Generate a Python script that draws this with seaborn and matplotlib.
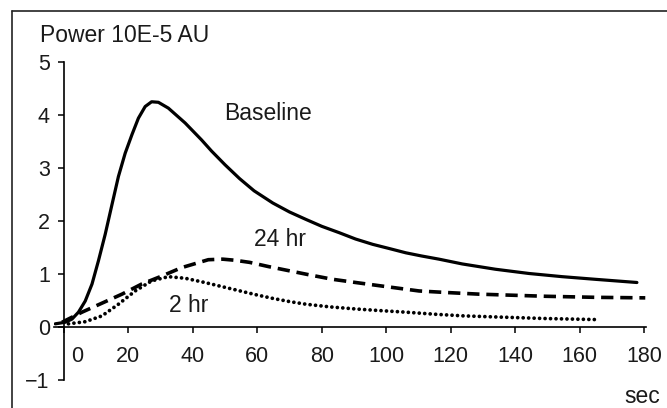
import numpy as np
import pandas as pd
import matplotlib
matplotlib.use("Agg")
import matplotlib.pyplot as plt
import seaborn as sns
from matplotlib.transforms import ScaledTranslation
from matplotlib.lines import Line2D

# ---- data ----
base_t = [-2.7, 0.4, 2.5, 4.5, 6.6, 8.7, 10.7, 12.8, 14.9, 16.9, 19.0, 21.1, 23.1,
          25.2, 27.2, 29.3, 32.4, 37.6, 42.7, 45.8, 50.0, 54.5, 59.0, 64.8, 70.0,
          75.1, 80.0, 85.4, 90.5, 95.8, 101.0, 106.1, 111.0, 116.4, 123.6, 133.9,
          144.3, 154.6, 164.9, 177.8]
base_p = [0.06, 0.09, 0.15, 0.28, 0.49, 0.81, 1.25, 1.75, 2.31, 2.84, 3.28, 3.63, 3.94,
          4.16, 4.25, 4.24, 4.13, 3.85, 3.53, 3.32, 3.06, 2.80, 2.57, 2.34, 2.17,
          2.03, 1.90, 1.78, 1.66, 1.56, 1.48, 1.40, 1.34, 1.28, 1.19, 1.09,
          1.01, 0.95, 0.90, 0.84]

h24_t = [-0.6, 5.6, 11.8, 18.0, 24.1, 30.3, 36.5, 44.8, 49.3, 53.0, 57.6, 63.5,
         70.0, 76.5, 83.4, 90.5, 97.8, 104.0, 110.2, 119.0, 128.8, 139.0, 149.4,
         165.0, 180.4]
h24_p = [0.09, 0.28, 0.45, 0.62, 0.81, 0.96, 1.12, 1.27, 1.28, 1.26, 1.22, 1.14,
         1.06, 0.98, 0.90, 0.84, 0.78, 0.73, 0.68, 0.65, 0.62, 0.60, 0.58,
         0.56, 0.55]

h2_t = [1.4, 6.6, 11.8, 16.9, 22.1, 27.2, 32.4, 37.6, 43.7, 48.5, 54.0, 59.5,
        64.8, 70.0, 75.1, 82.5, 90.6, 98.0, 106.1, 115.4, 124.0, 133.9, 149.4, 165.4]
h2_p = [0.06, 0.10, 0.21, 0.43, 0.68, 0.87, 0.95, 0.92, 0.84, 0.77, 0.69, 0.61,
        0.54, 0.48, 0.43, 0.38, 0.34, 0.31, 0.28, 0.24, 0.21, 0.19, 0.16, 0.14]

x_ticks = [0, 20, 40, 60, 80, 100, 120, 140, 160, 180]
y_ticks = [-1, 0, 1, 2, 3, 4, 5]
y_tick_labels = ["\u22121", "0", "1", "2", "3", "4", "5"]

sns.set_theme(style="white")
plt.rcParams["font.family"] = ["Liberation Sans", "DejaVu Sans"]

fig = plt.figure(figsize=(6.67, 4.08), dpi=100)
ax = fig.add_axes([0.0814, 0.0686, 0.887, 0.7794])

df_b = pd.DataFrame({"t": base_t, "p": base_p})
df_24 = pd.DataFrame({"t": h24_t, "p": h24_p})
df_2 = pd.DataFrame({"t": h2_t, "p": h2_p})

sns.lineplot(data=df_b, x="t", y="p", ax=ax, color="black", lw=2.3)
sns.lineplot(data=df_24, x="t", y="p", ax=ax, color="black", lw=2.6)
ax.lines[-1].set_dashes((3.4, 1.9))
sns.lineplot(data=df_2, x="t", y="p", ax=ax, color="black", lw=2.7)
ax.lines[-1].set_dashes((0.01, 1.45))
ax.lines[-1].set_dash_capstyle("round")
for ln in ax.lines:
    ln.set_solid_joinstyle("round")

ax.set_xlim(-3, 180.6)
ax.set_ylim(-1, 5)

for s in ["top", "right"]:
    ax.spines[s].set_visible(False)
ax.spines["left"].set_position(("data", 0))
ax.spines["bottom"].set_position(("data", 0))
for s in ["left", "bottom"]:
    ax.spines[s].set_color("black")
    ax.spines[s].set_linewidth(1.2)

ax.set_xticks(x_ticks)
ax.set_yticks(y_ticks)
ax.set_yticklabels(y_tick_labels)
ax.tick_params(axis="both", which="major", direction="out", length=4.2, width=1.1,
               color="black", labelsize=15.5, labelcolor="#1a1a1a")
ax.tick_params(axis="x", bottom=True, pad=9.5)
ax.tick_params(axis="y", left=True, pad=6)
ax.set_xlabel("")
ax.set_ylabel("")

# shift the "0" x tick label to the right of the y axis
lab0 = ax.get_xticklabels()[0]
lab0.set_transform(lab0.get_transform() + ScaledTranslation(0.13, 0, fig.dpi_scale_trans))

txt = dict(color="#1a1a1a", fontsize=16.5)
fig.text(40 / 667, 1 - 35 / 408, "Power 10E-5 AU", ha="left", va="center", **txt)
fig.text(268 / 667, 1 - 113 / 408, "Baseline", ha="center", va="center", **txt)
fig.text(280 / 667, 1 - 240 / 408, "24 hr", ha="center", va="center", **txt)
fig.text(189 / 667, 1 - 305 / 408, "2 hr", ha="center", va="center", **txt)
fig.text(660 / 667, 1 - 403 / 408, "sec", ha="right", va="baseline", **txt)

# outer frame (top and left edges visible)
fig.add_artist(Line2D([12 / 667, 1.0], [1 - 11 / 408, 1 - 11 / 408],
                      transform=fig.transFigure, color="#222222", lw=1.2))
fig.add_artist(Line2D([12 / 667, 12 / 667], [0, 1 - 11 / 408],
                      transform=fig.transFigure, color="#222222", lw=1.2))

fig.savefig("out.png", dpi=100)
